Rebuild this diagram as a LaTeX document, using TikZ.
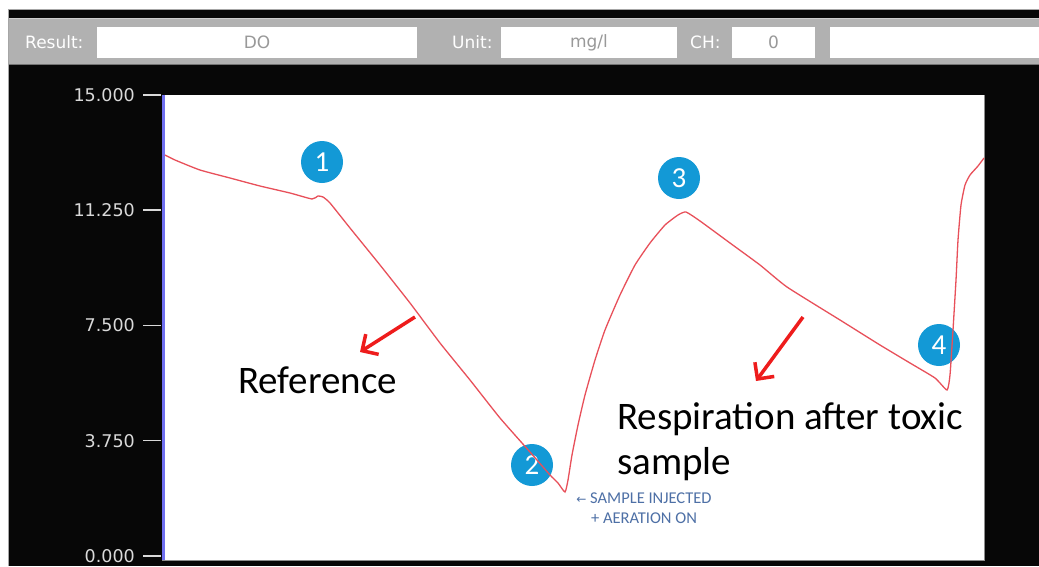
\documentclass[tikz,border=0pt]{standalone}
\usepackage{fontspec}
\setmainfont{Carlito}
\newfontfamily\panelfont{DejaVu Sans}
\usetikzlibrary{arrows.meta}
\definecolor{panelgray}{HTML}{B1B1B1}
\definecolor{screenblack}{HTML}{070707}
\definecolor{axisblue}{HTML}{7070F0}
\definecolor{tracered}{HTML}{E8505A}
\definecolor{markerblue}{HTML}{1399D6}
\definecolor{notered}{HTML}{EE1C1C}
\definecolor{noteblue}{HTML}{4E70A6}
\tikzset{
	fieldlabel/.style={text=white, anchor=west, inner sep=0, font=\panelfont\fontsize{17}{17}\selectfont},
	fieldbox/.style={fill=white, draw=none, text=black!40, inner sep=0, minimum height=31, font=\panelfont\fontsize{17}{17}\selectfont},
	yval/.style={text=black!15, anchor=east, inner sep=0, font=\panelfont\fontsize{17.5}{17.5}\selectfont},
	scalemark/.style={draw=black!15, line width=1.5},
	marker/.style={circle, fill=markerblue, text=white, minimum size=42, inner sep=0, font=\fontsize{29}{29}\selectfont},
	pointer/.style={draw=notered, line width=3.5, -{Straight Barb[length=12, width=24, line width=3.5]}},
	bigtext/.style={inner sep=0, font=\fontsize{39}{45}\selectfont}
}

\begin{document}
\begin{tikzpicture}[x=1pt, y=-1pt]
	\useasboundingbox (0,0) rectangle (1039,566);
	\fill[white]	(0,0) rectangle (1039,566);
	\fill[screenblack]	(8,9) rectangle (1039,566);
	\draw[black!35]	(8.5,566) to (8.5,9.5) to (1039,9.5);

	\fill[panelgray]	(9,18) rectangle (1039,65);
	\draw[black!20]	(9,18.5) to (1039,18.5);
	\draw[black!55, line width=1.5]	(9,64.5) to (1039,64.5);
	\node[fieldlabel] (resultlabel) at (25,42.5) {Result:};
	\node[fieldbox, minimum width=320] (resultbox) at (257,42.5) {DO};
	\node[fieldlabel] (unitlabel) at (452,42.5) {Unit:};
	\node[fieldbox, minimum width=176] (unitbox) at (589,42.5) {mg/l};
	\node[fieldlabel] (chlabel) at (690,42.5) {CH:};
	\node[fieldbox, minimum width=83] (chbox) at (773.5,42.5) {0};
	\node[fieldbox, minimum width=209] (sparebox) at (934.5,42.5) {};

	\fill[white]	(162,95) rectangle (984,560);
	\draw[black!45, line width=1.5]	(162,560.5) to (984.5,560.5) to (984.5,95);
	\draw[axisblue, line width=2.5]	(163.5,95) to (163.5,560);

	\draw[scalemark]	(143,95) to (161,95);
	\node[yval] (v15) at (135,95) {15.000};
	\draw[scalemark]	(143,210.2) to (161,210.2);
	\node[yval] (v11) at (135,210.2) {11.250};
	\draw[scalemark]	(143,325.5) to (161,325.5);
	\node[yval] (v7) at (135,325.5) {7.500};
	\draw[scalemark]	(143,440.7) to (161,440.7);
	\node[yval] (v3) at (135,440.7) {3.750};
	\draw[scalemark]	(143,556) to (161,556);
	\node[yval] (v0) at (135,556) {0.000};

	\node[marker] (m1) at (322,162) {1};
	\node[marker] (m2) at (532,465) {2};
	\node[marker] (m3) at (679,178) {3};
	\node[marker] (m4) at (939,345) {4};

	\draw[tracered, line width=1.3]	plot[smooth, tension=0.3] coordinates {
		(165,155) (175,160) (200,170) (230,178) (260,186) (290,193) (312,199) (318,196) (323,197) (330,203)
		(350,228) (380,265) (410,303) (440,343) (470,380) (500,418) (530,452) (550,475) (558,483) (565,492)
		(568,480) (572,455) (578,425) (585,395) (595,360) (605,330) (620,295) (635,265) (650,243) (665,225)
		(678,215) (686,212) (700,221) (730,243) (760,265) (787,287) (840,320) (880,345) (910,363) (935,378)
		(947,390) (950,375) (953,330) (956,280) (958,240) (961,205) (965,185) (970,175) (978,166) (984,158)};

	\coordinate (reftail) at (415,317);
	\coordinate (refhead) at (360,352);
	\draw[pointer]	(reftail) to (refhead);
	\coordinate (resptail) at (803,317);
	\coordinate (resphead) at (756,381);
	\draw[pointer]	(resptail) to (resphead);

	\node[bigtext, anchor=base west] (reflabel) at (238,393) {Reference};
	\node[bigtext, anchor=north west, align=left] (resplabel) at (617,402.5) {Respiration after toxic\\sample};
	\node[inner sep=0, anchor=north, align=center, text=noteblue, font=\fontsize{16.5}{20}\selectfont] (injectnote) at (644,493) {{\panelfont\fontsize{12}{20}\selectfont ←} SAMPLE INJECTED\\+ AERATION ON};
\end{tikzpicture}
\end{document}
